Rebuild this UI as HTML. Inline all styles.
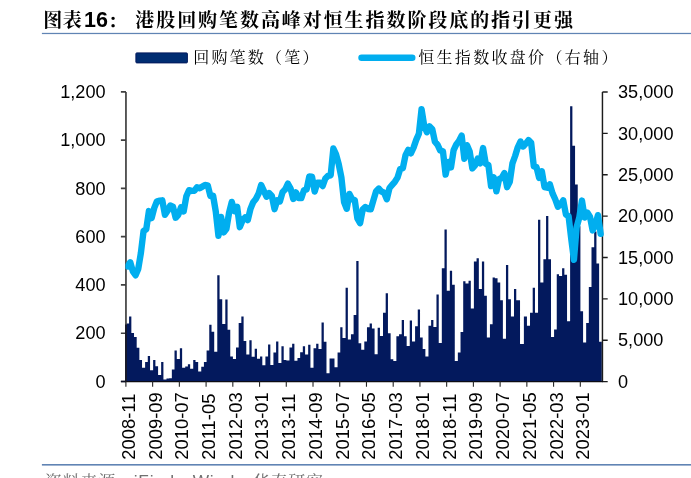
<!DOCTYPE html><html><head><meta charset="utf-8"><title>chart</title><style>
html,body{margin:0;padding:0;background:#fff;}svg{display:block;will-change:transform;opacity:0.999}
text{font-family:"Liberation Sans","Noto Serif CJK SC",sans-serif;fill:#000}
.k{font-family:"Liberation Sans","Noto Serif CJK SC",serif}
</style></head><body>
<svg width="691" height="478" viewBox="0 0 691 478">
<rect width="691" height="478" fill="#fff"/>
<text class="k" x="43.2" y="27.3" font-size="19" font-weight="bold" letter-spacing="0.6">图表<tspan font-size="21.5" letter-spacing="0" dx="1.6">16</tspan><tspan dy="0.9">：</tspan></text>
<text class="k" x="135.3" y="27.2" font-size="19" font-weight="bold" letter-spacing="1.93">港股回购笔数高峰对恒生指数阶段底的指引更强</text>
<rect x="41.9" y="32.85" width="650" height="1.25" fill="#6084b4"/>
<rect x="135.9" y="52.9" width="51.5" height="10" rx="0.8" fill="#002d72" stroke="#03195d" stroke-width="1"/>
<text class="k" x="193.2" y="63.2" font-size="16" letter-spacing="2.2">回购笔数（笔）</text>
<line x1="361.6" y1="57.7" x2="412.2" y2="57.7" stroke="#00aeef" stroke-width="6.6" stroke-linecap="round"/>
<text class="k" x="418.2" y="63.2" font-size="16" letter-spacing="2.32">恒生指数收盘价（右轴）</text>
<path d="M126.40 381.30V323.38H128.67V381.30ZM129.07 381.30V316.38H131.35V381.30ZM128.57 381.30V323.38H129.17V381.30ZM131.75 381.30V333.03H134.02V381.30ZM131.25 381.30V333.03H131.85V381.30ZM134.42 381.30V336.89H136.69V381.30ZM133.92 381.30V336.89H134.52V381.30ZM137.09 381.30V347.75H139.37V381.30ZM136.59 381.30V347.75H137.19V381.30ZM139.76 381.30V360.06H142.04V381.30ZM139.27 381.30V360.06H139.86V381.30ZM142.44 381.30V367.79H144.71V381.30ZM141.94 381.30V367.79H142.54V381.30ZM145.11 381.30V361.99H147.38V381.30ZM144.61 381.30V367.79H145.21V381.30ZM147.78 381.30V355.96H150.06V381.30ZM147.28 381.30V361.99H147.88V381.30ZM150.46 381.30V370.20H152.73V381.30ZM149.96 381.30V370.20H150.56V381.30ZM153.13 381.30V360.06H155.40V381.30ZM152.63 381.30V370.20H153.23V381.30ZM155.80 381.30V366.34H158.08V381.30ZM155.30 381.30V366.34H155.90V381.30ZM158.48 381.30V375.03H160.75V381.30ZM157.98 381.30V375.03H158.58V381.30ZM161.15 381.30V361.99H163.42V381.30ZM160.65 381.30V375.03H161.25V381.30ZM163.82 381.30V379.61H166.10V381.30ZM163.32 381.30V379.61H163.92V381.30ZM166.50 381.30V378.40H168.77V381.30ZM166.00 381.30V379.61H166.59V381.30ZM169.17 381.30V378.16H171.44V381.30ZM168.67 381.30V378.40H169.27V381.30ZM171.84 381.30V369.47H174.11V381.30ZM171.34 381.30V378.16H171.94V381.30ZM174.51 381.30V350.41H176.79V381.30ZM174.01 381.30V369.47H174.61V381.30ZM177.19 381.30V359.10H179.46V381.30ZM176.69 381.30V359.10H177.29V381.30ZM179.86 381.30V348.24H182.13V381.30ZM179.36 381.30V359.10H179.96V381.30ZM182.53 381.30V367.79H184.81V381.30ZM182.03 381.30V367.79H182.63V381.30ZM185.21 381.30V366.58H187.48V381.30ZM184.71 381.30V367.79H185.31V381.30ZM187.88 381.30V364.17H190.15V381.30ZM187.38 381.30V366.58H187.98V381.30ZM190.55 381.30V368.75H192.83V381.30ZM190.05 381.30V368.75H190.65V381.30ZM193.22 381.30V360.06H195.50V381.30ZM192.73 381.30V368.75H193.32V381.30ZM195.90 381.30V361.99H198.17V381.30ZM195.40 381.30V361.99H196.00V381.30ZM198.57 381.30V371.41H200.84V381.30ZM198.07 381.30V371.41H198.67V381.30ZM201.24 381.30V366.82H203.52V381.30ZM200.74 381.30V371.41H201.34V381.30ZM203.92 381.30V361.99H206.19V381.30ZM203.42 381.30V366.82H204.02V381.30ZM206.59 381.30V350.41H208.86V381.30ZM206.09 381.30V361.99H206.69V381.30ZM209.26 381.30V324.83H211.54V381.30ZM208.76 381.30V350.41H209.36V381.30ZM211.94 381.30V331.83H214.21V381.30ZM211.44 381.30V331.83H212.04V381.30ZM214.61 381.30V351.86H216.88V381.30ZM214.11 381.30V351.86H214.71V381.30ZM217.28 381.30V275.35H219.56V381.30ZM216.78 381.30V351.86H217.38V381.30ZM219.95 381.30V299.25H222.23V381.30ZM219.46 381.30V299.25H220.05V381.30ZM222.63 381.30V324.10H224.90V381.30ZM222.13 381.30V324.10H222.73V381.30ZM225.30 381.30V299.49H227.57V381.30ZM224.80 381.30V324.10H225.40V381.30ZM227.97 381.30V329.65H230.25V381.30ZM227.47 381.30V329.65H228.07V381.30ZM230.65 381.30V356.44H232.92V381.30ZM230.15 381.30V356.44H230.75V381.30ZM233.32 381.30V359.10H235.59V381.30ZM232.82 381.30V359.10H233.42V381.30ZM235.99 381.30V347.51H238.27V381.30ZM235.49 381.30V359.10H236.09V381.30ZM238.67 381.30V322.90H240.94V381.30ZM238.17 381.30V347.51H238.77V381.30ZM241.34 381.30V316.38H243.61V381.30ZM240.84 381.30V322.90H241.44V381.30ZM244.01 381.30V341.00H246.29V381.30ZM243.51 381.30V341.00H244.11V381.30ZM246.69 381.30V354.51H248.96V381.30ZM246.19 381.30V354.51H246.78V381.30ZM249.36 381.30V340.27H251.63V381.30ZM248.86 381.30V354.51H249.46V381.30ZM252.03 381.30V356.68H254.30V381.30ZM251.53 381.30V356.68H252.13V381.30ZM254.70 381.30V348.72H256.98V381.30ZM254.20 381.30V356.68H254.80V381.30ZM257.38 381.30V358.86H259.65V381.30ZM256.88 381.30V358.86H257.48V381.30ZM260.05 381.30V356.44H262.32V381.30ZM259.55 381.30V358.86H260.15V381.30ZM262.72 381.30V365.37H265.00V381.30ZM262.22 381.30V365.37H262.82V381.30ZM265.40 381.30V356.44H267.67V381.30ZM264.90 381.30V365.37H265.50V381.30ZM268.07 381.30V344.38H270.34V381.30ZM267.57 381.30V356.44H268.17V381.30ZM270.74 381.30V364.89H273.02V381.30ZM270.24 381.30V364.89H270.84V381.30ZM273.42 381.30V352.58H275.69V381.30ZM272.92 381.30V364.89H273.52V381.30ZM276.09 381.30V341.48H278.36V381.30ZM275.59 381.30V352.58H276.19V381.30ZM278.76 381.30V362.96H281.03V381.30ZM278.26 381.30V362.96H278.86V381.30ZM281.43 381.30V346.31H283.71V381.30ZM280.93 381.30V362.96H281.53V381.30ZM284.11 381.30V360.06H286.38V381.30ZM283.61 381.30V360.06H284.21V381.30ZM286.78 381.30V360.55H289.05V381.30ZM286.28 381.30V360.55H286.88V381.30ZM289.45 381.30V347.51H291.73V381.30ZM288.95 381.30V360.55H289.55V381.30ZM292.13 381.30V343.65H294.40V381.30ZM291.63 381.30V347.51H292.23V381.30ZM294.80 381.30V360.79H297.07V381.30ZM294.30 381.30V360.79H294.90V381.30ZM297.47 381.30V357.89H299.75V381.30ZM296.97 381.30V360.79H297.57V381.30ZM300.14 381.30V352.34H302.42V381.30ZM299.64 381.30V357.89H300.25V381.30ZM302.82 381.30V346.31H305.09V381.30ZM302.32 381.30V352.34H302.92V381.30ZM305.49 381.30V354.51H307.76V381.30ZM304.99 381.30V354.51H305.59V381.30ZM308.16 381.30V344.86H310.44V381.30ZM307.66 381.30V354.51H308.26V381.30ZM310.84 381.30V367.79H313.11V381.30ZM310.34 381.30V367.79H310.94V381.30ZM313.51 381.30V348.24H315.78V381.30ZM313.01 381.30V367.79H313.61V381.30ZM316.18 381.30V343.65H318.46V381.30ZM315.68 381.30V348.24H316.28V381.30ZM318.86 381.30V348.96H321.13V381.30ZM318.36 381.30V348.96H318.96V381.30ZM321.53 381.30V322.41H323.80V381.30ZM321.03 381.30V348.96H321.63V381.30ZM324.20 381.30V341.72H326.48V381.30ZM323.70 381.30V341.72H324.30V381.30ZM326.88 381.30V373.34H329.15V381.30ZM326.38 381.30V373.34H326.98V381.30ZM329.55 381.30V358.61H331.82V381.30ZM329.05 381.30V373.34H329.65V381.30ZM332.22 381.30V358.61H334.49V381.30ZM331.72 381.30V358.61H332.32V381.30ZM334.89 381.30V367.30H337.17V381.30ZM334.39 381.30V367.30H334.99V381.30ZM337.57 381.30V352.58H339.84V381.30ZM337.07 381.30V367.30H337.67V381.30ZM340.24 381.30V327.24H342.51V381.30ZM339.74 381.30V352.58H340.34V381.30ZM342.91 381.30V338.10H345.19V381.30ZM342.41 381.30V338.10H343.01V381.30ZM345.59 381.30V287.66H347.86V381.30ZM345.09 381.30V338.10H345.69V381.30ZM348.26 381.30V339.55H350.53V381.30ZM347.76 381.30V339.55H348.36V381.30ZM350.93 381.30V334.24H353.21V381.30ZM350.43 381.30V339.55H351.03V381.30ZM353.61 381.30V314.93H355.88V381.30ZM353.11 381.30V334.24H353.71V381.30ZM356.28 381.30V261.12H358.55V381.30ZM355.78 381.30V314.93H356.38V381.30ZM358.95 381.30V343.17H361.22V381.30ZM358.45 381.30V343.17H359.05V381.30ZM361.62 381.30V349.69H363.90V381.30ZM361.12 381.30V349.69H361.72V381.30ZM364.30 381.30V341.48H366.57V381.30ZM363.80 381.30V349.69H364.40V381.30ZM366.97 381.30V327.24H369.24V381.30ZM366.47 381.30V341.48H367.07V381.30ZM369.64 381.30V323.38H371.92V381.30ZM369.14 381.30V327.24H369.74V381.30ZM372.32 381.30V328.45H374.59V381.30ZM371.82 381.30V328.45H372.42V381.30ZM374.99 381.30V354.27H377.26V381.30ZM374.49 381.30V354.27H375.09V381.30ZM377.66 381.30V327.72H379.94V381.30ZM377.16 381.30V354.27H377.76V381.30ZM380.33 381.30V335.93H382.61V381.30ZM379.83 381.30V335.93H380.44V381.30ZM383.01 381.30V312.76H385.28V381.30ZM382.51 381.30V335.93H383.11V381.30ZM385.68 381.30V293.21H387.95V381.30ZM385.18 381.30V312.76H385.78V381.30ZM388.35 381.30V333.27H390.63V381.30ZM387.85 381.30V333.27H388.45V381.30ZM391.03 381.30V359.34H393.30V381.30ZM390.53 381.30V359.34H391.13V381.30ZM393.70 381.30V361.03H395.97V381.30ZM393.20 381.30V361.03H393.80V381.30ZM396.37 381.30V336.17H398.65V381.30ZM395.87 381.30V361.03H396.47V381.30ZM399.05 381.30V334.24H401.32V381.30ZM398.55 381.30V336.17H399.15V381.30ZM401.72 381.30V320.00H403.99V381.30ZM401.22 381.30V334.24H401.82V381.30ZM404.39 381.30V336.17H406.67V381.30ZM403.89 381.30V336.17H404.49V381.30ZM407.06 381.30V346.07H409.34V381.30ZM406.56 381.30V346.07H407.17V381.30ZM409.74 381.30V320.48H412.01V381.30ZM409.24 381.30V346.07H409.84V381.30ZM412.41 381.30V341.48H414.68V381.30ZM411.91 381.30V341.48H412.51V381.30ZM415.08 381.30V326.28H417.36V381.30ZM414.58 381.30V341.48H415.18V381.30ZM417.76 381.30V309.38H420.03V381.30ZM417.26 381.30V326.28H417.86V381.30ZM420.43 381.30V337.38H422.70V381.30ZM419.93 381.30V337.38H420.53V381.30ZM423.10 381.30V348.96H425.38V381.30ZM422.60 381.30V348.96H423.20V381.30ZM425.78 381.30V356.44H428.05V381.30ZM425.28 381.30V356.44H425.88V381.30ZM428.45 381.30V325.79H430.72V381.30ZM427.95 381.30V356.44H428.55V381.30ZM431.12 381.30V320.00H433.39V381.30ZM430.62 381.30V325.79H431.22V381.30ZM433.79 381.30V327.00H436.07V381.30ZM433.29 381.30V327.00H433.89V381.30ZM436.47 381.30V294.42H438.74V381.30ZM435.97 381.30V327.00H436.57V381.30ZM439.14 381.30V342.93H441.41V381.30ZM438.64 381.30V342.93H439.24V381.30ZM441.81 381.30V268.36H444.09V381.30ZM441.31 381.30V342.93H441.91V381.30ZM444.49 381.30V229.50H446.76V381.30ZM443.99 381.30V268.36H444.59V381.30ZM447.16 381.30V290.80H449.43V381.30ZM446.66 381.30V290.80H447.26V381.30ZM449.83 381.30V270.77H452.11V381.30ZM449.33 381.30V290.80H449.93V381.30ZM452.51 381.30V284.77H454.78V381.30ZM452.01 381.30V284.77H452.61V381.30ZM455.18 381.30V361.03H457.45V381.30ZM454.68 381.30V361.03H455.28V381.30ZM457.85 381.30V352.58H460.12V381.30ZM457.35 381.30V361.03H457.95V381.30ZM460.52 381.30V332.07H462.80V381.30ZM460.02 381.30V352.58H460.62V381.30ZM463.20 381.30V281.15H465.47V381.30ZM462.70 381.30V332.07H463.30V381.30ZM465.87 381.30V283.56H468.14V381.30ZM465.37 381.30V283.56H465.97V381.30ZM468.54 381.30V280.66H470.82V381.30ZM468.04 381.30V283.56H468.64V381.30ZM471.22 381.30V308.42H473.49V381.30ZM470.72 381.30V308.42H471.32V381.30ZM473.89 381.30V261.60H476.16V381.30ZM473.39 381.30V308.42H473.99V381.30ZM476.56 381.30V258.22H478.84V381.30ZM476.06 381.30V261.60H476.66V381.30ZM479.24 381.30V289.11H481.51V381.30ZM478.74 381.30V289.11H479.34V381.30ZM481.91 381.30V261.60H484.18V381.30ZM481.41 381.30V289.11H482.01V381.30ZM484.58 381.30V295.87H486.86V381.30ZM484.08 381.30V295.87H484.68V381.30ZM487.25 381.30V337.38H489.53V381.30ZM486.75 381.30V337.38H487.36V381.30ZM489.93 381.30V324.35H492.20V381.30ZM489.43 381.30V337.38H490.03V381.30ZM492.60 381.30V277.53H494.87V381.30ZM492.10 381.30V324.35H492.70V381.30ZM495.27 381.30V278.25H497.55V381.30ZM494.77 381.30V278.25H495.37V381.30ZM497.95 381.30V282.59H500.22V381.30ZM497.45 381.30V282.59H498.05V381.30ZM500.62 381.30V300.21H502.89V381.30ZM500.12 381.30V300.21H500.72V381.30ZM503.29 381.30V338.83H505.57V381.30ZM502.79 381.30V338.83H503.39V381.30ZM505.97 381.30V264.98H508.24V381.30ZM505.47 381.30V338.83H506.07V381.30ZM508.64 381.30V299.25H510.91V381.30ZM508.14 381.30V299.25H508.74V381.30ZM511.31 381.30V316.38H513.58V381.30ZM510.81 381.30V316.38H511.41V381.30ZM513.99 381.30V289.11H516.26V381.30ZM513.48 381.30V316.38H514.09V381.30ZM516.66 381.30V300.21H518.93V381.30ZM516.16 381.30V300.21H516.76V381.30ZM519.33 381.30V343.89H521.60V381.30ZM518.83 381.30V343.89H519.43V381.30ZM522.00 381.30V343.89H524.28V381.30ZM521.50 381.30V343.89H522.10V381.30ZM524.68 381.30V316.62H526.95V381.30ZM524.18 381.30V343.89H524.78V381.30ZM527.35 381.30V325.79H529.62V381.30ZM526.85 381.30V325.79H527.45V381.30ZM530.02 381.30V312.76H532.30V381.30ZM529.52 381.30V325.79H530.12V381.30ZM532.70 381.30V287.66H534.97V381.30ZM532.20 381.30V312.76H532.80V381.30ZM535.37 381.30V312.76H537.64V381.30ZM534.87 381.30V312.76H535.47V381.30ZM538.04 381.30V219.85H540.31V381.30ZM537.54 381.30V312.76H538.14V381.30ZM540.72 381.30V282.59H542.99V381.30ZM540.21 381.30V282.59H540.82V381.30ZM543.39 381.30V259.19H545.66V381.30ZM542.89 381.30V282.59H543.49V381.30ZM546.06 381.30V215.99H548.33V381.30ZM545.56 381.30V259.19H546.16V381.30ZM548.73 381.30V259.19H551.01V381.30ZM548.23 381.30V259.19H548.83V381.30ZM551.41 381.30V336.89H553.68V381.30ZM550.91 381.30V336.89H551.51V381.30ZM554.08 381.30V329.41H556.35V381.30ZM553.58 381.30V336.89H554.18V381.30ZM556.75 381.30V274.15H559.03V381.30ZM556.25 381.30V329.41H556.85V381.30ZM559.43 381.30V276.08H561.70V381.30ZM558.93 381.30V276.08H559.53V381.30ZM562.10 381.30V268.36H564.37V381.30ZM561.60 381.30V276.08H562.20V381.30ZM564.77 381.30V274.87H567.04V381.30ZM564.27 381.30V274.87H564.87V381.30ZM567.45 381.30V321.21H569.72V381.30ZM566.94 381.30V321.21H567.55V381.30ZM570.12 381.30V106.18H572.39V381.30ZM569.62 381.30V321.21H570.22V381.30ZM572.79 381.30V145.76H575.06V381.30ZM572.29 381.30V145.76H572.89V381.30ZM575.46 381.30V184.61H577.74V381.30ZM574.96 381.30V184.61H575.56V381.30ZM578.14 381.30V226.36H580.41V381.30ZM577.64 381.30V226.36H578.24V381.30ZM580.81 381.30V311.31H583.08V381.30ZM580.31 381.30V311.31H580.91V381.30ZM583.48 381.30V342.45H585.76V381.30ZM582.98 381.30V342.45H583.58V381.30ZM586.16 381.30V322.90H588.43V381.30ZM585.66 381.30V342.45H586.26V381.30ZM588.83 381.30V286.94H591.10V381.30ZM588.33 381.30V322.90H588.93V381.30ZM591.50 381.30V247.36H593.77V381.30ZM591.00 381.30V286.94H591.60V381.30ZM594.18 381.30V231.43H596.45V381.30ZM593.67 381.30V247.36H594.28V381.30ZM596.85 381.30V263.53H599.12V381.30ZM596.35 381.30V263.53H596.95V381.30ZM599.52 381.30V341.72H601.79V381.30ZM599.02 381.30V341.72H599.62V381.30ZM518.63 381.30V300.21h1.4V381.30ZM523.88 381.30V316.62h1.1V381.30Z" fill="#03195d"/>
<g fill="none" stroke-linejoin="round">
<path stroke="#404040" stroke-width="1.7" d="M125.95 91.90V381.90M120.9 381.50H125.95M120.9 333.23H125.95M120.9 284.97H125.95M120.9 236.70H125.95M120.9 188.43H125.95M120.9 140.17H125.95M120.9 91.90H125.95"/>
<path stroke="#1c1c1c" stroke-width="1.45" d="M602.45 92.00V381.90M602.45 381.60H607.7M602.45 340.23H607.7M602.45 298.86H607.7M602.45 257.49H607.7M602.45 216.11H607.7M602.45 174.74H607.7M602.45 133.37H607.7M602.45 92.00H607.7"/>
<path stroke="#0a0d22" stroke-width="1.6" d="M126.0 324.38V381.90M120.9 381.55H126"/>
<path stroke="#0c0c14" stroke-width="1.35" d="M125.2 381.55H603.1"/>
<path stroke="#262626" stroke-width="1.1" d="M125.90 381.30V386.70M152.63 381.30V386.70M179.36 381.30V386.70M206.09 381.30V386.70M232.82 381.30V386.70M259.55 381.30V386.70M286.28 381.30V386.70M313.01 381.30V386.70M339.74 381.30V386.70M366.47 381.30V386.70M393.20 381.30V386.70M419.93 381.30V386.70M446.66 381.30V386.70M473.39 381.30V386.70M500.12 381.30V386.70M526.85 381.30V386.70M553.58 381.30V386.70M580.31 381.30V386.70"/>
</g>
<clipPath id="pc"><rect x="125.4" y="60" width="479.4" height="330"/></clipPath>
<polyline clip-path="url(#pc)" points="127.54,266.39 130.21,262.26 132.88,271.43 135.56,275.30 138.23,268.97 140.90,252.88 143.57,230.95 146.25,229.24 148.92,211.07 151.59,218.10 154.27,207.91 156.94,201.32 159.61,200.75 162.29,200.32 164.96,214.81 167.63,210.78 170.30,205.56 172.98,206.65 175.65,217.76 178.32,214.76 181.00,207.30 183.67,211.38 186.34,196.30 189.02,190.20 191.69,190.93 194.36,190.70 197.03,187.29 199.71,188.19 202.38,186.63 205.05,185.03 207.73,185.33 210.40,195.97 213.07,195.63 215.75,211.40 218.42,235.74 221.09,216.94 223.76,232.45 226.44,228.77 229.11,212.59 231.78,201.91 234.46,211.22 237.13,206.76 239.80,227.16 242.48,220.44 245.15,217.50 247.82,220.10 250.49,208.86 253.17,202.24 255.84,199.02 258.51,193.84 261.19,184.96 263.86,190.83 266.53,196.79 269.21,193.17 271.88,196.02 274.55,209.17 277.22,200.23 279.90,201.49 282.57,192.16 285.24,189.29 287.92,183.70 290.59,188.46 293.26,198.98 295.94,192.35 298.61,198.02 301.28,198.17 303.95,190.32 306.63,189.42 309.30,176.46 311.97,176.58 314.65,191.55 317.32,182.73 319.99,182.82 322.67,185.99 325.34,178.52 328.01,175.91 330.68,175.27 333.36,148.52 336.03,154.39 338.70,164.10 341.38,177.45 344.05,202.00 346.72,208.81 349.40,193.97 352.07,199.30 354.74,199.98 357.41,218.44 360.09,223.17 362.76,209.39 365.43,206.99 368.11,209.07 370.78,209.24 373.45,200.17 376.13,191.19 378.80,188.53 381.47,191.54 384.14,192.74 386.82,199.27 389.49,188.01 392.16,184.87 394.84,181.80 397.51,177.63 400.18,168.98 402.86,168.12 405.53,155.22 408.20,149.87 410.87,153.31 413.55,147.59 416.22,139.88 418.89,133.74 421.57,109.18 424.24,126.09 426.91,132.30 429.59,126.39 432.26,129.20 434.93,141.72 437.60,144.80 440.28,150.55 442.95,151.37 445.62,174.62 448.30,161.98 450.97,167.45 453.64,150.10 456.32,144.38 458.99,140.92 461.66,135.56 464.33,158.71 467.01,145.14 469.68,151.47 472.35,168.45 475.03,165.41 477.70,158.67 480.37,163.31 483.05,148.06 485.72,163.59 488.39,165.10 491.06,186.00 493.74,177.40 496.41,191.31 499.08,179.18 501.76,177.79 504.43,172.98 507.10,187.19 509.78,181.83 512.45,163.35 515.12,155.98 517.79,147.28 520.47,141.51 523.14,146.49 525.81,143.63 528.49,140.10 531.16,142.78 533.83,166.49 536.51,167.18 539.18,177.96 541.85,171.32 544.52,187.06 547.20,187.71 549.87,184.36 552.54,193.37 555.22,199.30 557.89,206.80 560.56,204.11 563.24,200.43 565.91,214.52 568.58,216.19 571.25,238.80 573.93,259.78 576.60,227.42 579.27,217.63 581.95,200.57 584.62,217.59 587.29,212.50 589.97,216.69 592.64,230.43 595.31,224.78 597.98,215.17 600.66,233.85" fill="none" stroke="#00aeef" stroke-width="6.4" stroke-linejoin="round" stroke-linecap="round"/>
<text transform="translate(105.6,387.75) scale(1.02,1)" font-size="17.8" text-anchor="end">0</text>
<text transform="translate(105.6,339.48) scale(1.02,1)" font-size="17.8" text-anchor="end">200</text>
<text transform="translate(105.6,291.22) scale(1.02,1)" font-size="17.8" text-anchor="end">400</text>
<text transform="translate(105.6,242.95) scale(1.02,1)" font-size="17.8" text-anchor="end">600</text>
<text transform="translate(105.6,194.68) scale(1.02,1)" font-size="17.8" text-anchor="end">800</text>
<text transform="translate(105.6,146.42) scale(1.02,1)" font-size="17.8" text-anchor="end">1,000</text>
<text transform="translate(105.6,98.15) scale(1.02,1)" font-size="17.8" text-anchor="end">1,200</text>
<text transform="translate(618,387.75) scale(1.02,1)" font-size="17.8">0</text>
<text transform="translate(618,346.38) scale(1.02,1)" font-size="17.8">5,000</text>
<text transform="translate(618,305.01) scale(1.02,1)" font-size="17.8">10,000</text>
<text transform="translate(618,263.64) scale(1.02,1)" font-size="17.8">15,000</text>
<text transform="translate(618,222.26) scale(1.02,1)" font-size="17.8">20,000</text>
<text transform="translate(618,180.89) scale(1.02,1)" font-size="17.8">25,000</text>
<text transform="translate(618,139.52) scale(1.02,1)" font-size="17.8">30,000</text>
<text transform="translate(618,98.15) scale(1.02,1)" font-size="17.8">35,000</text>
<text transform="translate(134.84,459.7) rotate(-90)" font-size="18.4">2008-11</text>
<text transform="translate(161.57,459.7) rotate(-90)" font-size="18.4">2009-09</text>
<text transform="translate(188.30,459.7) rotate(-90)" font-size="18.4">2010-07</text>
<text transform="translate(215.03,459.7) rotate(-90)" font-size="18.4">2011-05</text>
<text transform="translate(241.76,459.7) rotate(-90)" font-size="18.4">2012-03</text>
<text transform="translate(268.49,459.7) rotate(-90)" font-size="18.4">2013-01</text>
<text transform="translate(295.22,459.7) rotate(-90)" font-size="18.4">2013-11</text>
<text transform="translate(321.95,459.7) rotate(-90)" font-size="18.4">2014-09</text>
<text transform="translate(348.68,459.7) rotate(-90)" font-size="18.4">2015-07</text>
<text transform="translate(375.41,459.7) rotate(-90)" font-size="18.4">2016-05</text>
<text transform="translate(402.14,459.7) rotate(-90)" font-size="18.4">2017-03</text>
<text transform="translate(428.87,459.7) rotate(-90)" font-size="18.4">2018-01</text>
<text transform="translate(455.60,459.7) rotate(-90)" font-size="18.4">2018-11</text>
<text transform="translate(482.33,459.7) rotate(-90)" font-size="18.4">2019-09</text>
<text transform="translate(509.06,459.7) rotate(-90)" font-size="18.4">2020-07</text>
<text transform="translate(535.79,459.7) rotate(-90)" font-size="18.4">2021-05</text>
<text transform="translate(562.52,459.7) rotate(-90)" font-size="18.4">2022-03</text>
<text transform="translate(589.25,459.7) rotate(-90)" font-size="18.4">2023-01</text>
<rect x="41.9" y="464.0" width="650" height="1.6" fill="#6084b4"/>
<text class="k" x="45" y="487.8" font-size="17" style="fill:#707070" letter-spacing="0.75">资料来源：<tspan dy="-1.3" font-size="17.3">iFind</tspan><tspan dy="1.3">，</tspan><tspan dy="-1.3" font-size="17.3">Wind</tspan><tspan dy="1.3">，华泰研究</tspan></text>
</svg></body></html>
